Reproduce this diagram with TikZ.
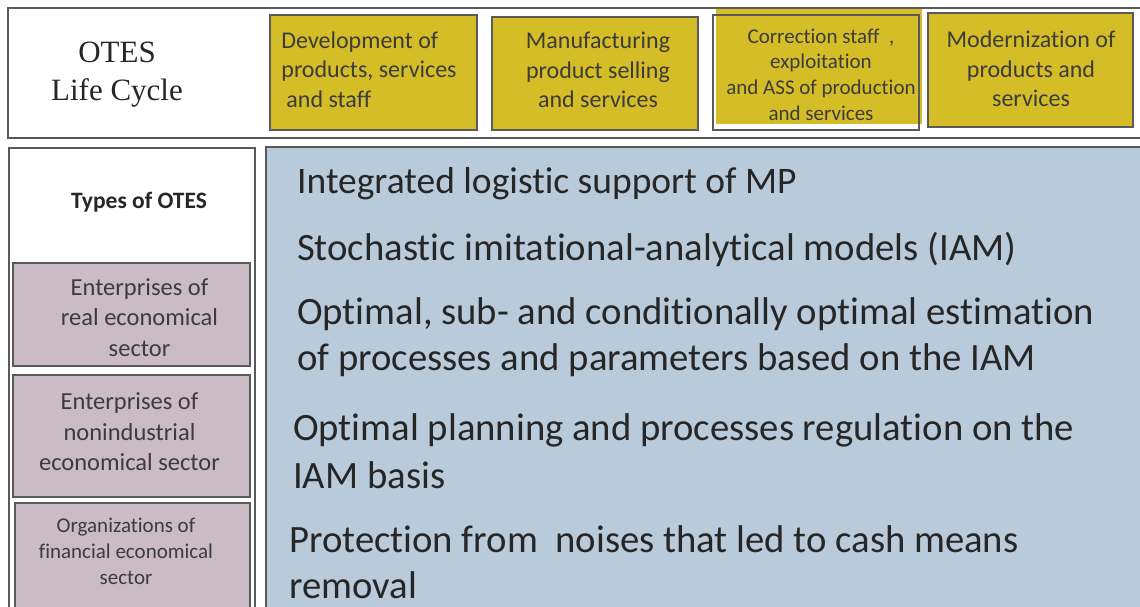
\documentclass[tikz,border=0pt]{standalone}
\usepackage{fontspec}
\setmainfont{Carlito}[Ligatures=NoCommon]
\newfontfamily\timesfont{Liberation Serif}
\definecolor{boxgold}{RGB}{212,189,38}
\definecolor{boxrose}{RGB}{202,187,197}
\definecolor{panelblue}{RGB}{185,203,219}
\definecolor{framegray}{RGB}{90,90,90}
\definecolor{textgray}{RGB}{60,60,60}
\usetikzlibrary{positioning}

\tikzset{
  frame/.style={draw=framegray, line width=1.6pt},
  stagetext/.style={text=textgray, align=center, inner sep=0pt, font=\fontsize{24}{29.5}\selectfont},
  typetext/.style={text=textgray, align=center, inner sep=0pt},
  listitem/.style={anchor=base west, text=black!85, align=left, inner sep=0pt,
    font=\fontsize{38.7}{46}\selectfont},
}

\begin{document}
\begin{tikzpicture}[x=1pt, y=-1pt]
  \useasboundingbox (0,0) rectangle (1140,607);

  % Frames
  \draw[frame, fill=white] (8,8) rectangle (1150,138);
  \draw[frame, fill=white] (9,148) rectangle (255,640);
  \draw[frame, fill=panelblue] (266,147) rectangle (1150,640);

  % Life cycle stages
  \node[font=\timesfont\fontsize{31}{38}\selectfont, text=black!85, align=center] (title) at (117,75) {OTES\\Life Cycle};

  \draw[frame, fill=boxgold] (270,15) rectangle (477,130);
  \draw[frame, fill=boxgold] (492,17) rectangle (698,130);
  \fill[boxgold] (716,9) rectangle (922,124);
  \draw[frame] (713,15) rectangle (919,130);
  \draw[frame, fill=boxgold] (928,13) rectangle (1133,127);

  \node[stagetext, align=left] (develop) at (369,69.5) {Development of\\products, services\\\hspace{5pt}and staff};
  \node[stagetext] (manufact) at (598,70) {Manufacturing\\product selling\\and services};
  \node[stagetext, font=\fontsize{21}{25.7}\selectfont] (correct) at (821,74.5) {Correction staff~~,\\exploitation\\and ASS of production\\and services};
  \node[stagetext] (modern) at (1031,69) {Modernization of\\products and\\services};

  % Types of OTES
  \node[font=\bfseries\fontsize{23.5}{28}\selectfont, text=black!85] (types) at (139,202) {Types of OTES};

  \draw[frame, fill=boxrose] (13,263) rectangle (250,366);
  \draw[frame, fill=boxrose] (13,375) rectangle (250,497);
  \draw[frame, fill=boxrose] (15,503) rectangle (250,640);

  \node[typetext, font=\fontsize{24.5}{30.5}\selectfont] (realsec) at (139.5,317.5) {Enterprises of\\real economical\\sector};
  \node[typetext, font=\fontsize{24.5}{30.5}\selectfont] (nonind) at (129.5,432) {Enterprises of\\nonindustrial\\economical sector};
  \node[typetext, font=\fontsize{21}{26}\selectfont] (finsec) at (126,551) {Organizations of\\financial economical\\sector};

  % Methods
  \node[listitem, font=\fontsize{37.5}{46}\selectfont] (ils) at (297,193) {Integrated logistic support of MP};
  \node[listitem] (iam) at (297,260) {Stochastic imitational-analytical models (IAM)};
  \node[listitem] (estim) at (297,370) {Optimal, sub- and conditionally optimal estimation\\of processes and parameters based on the IAM};
  \node[listitem, font=\fontsize{38.7}{48}\selectfont] (plan) at (293,488) {Optimal planning and processes regulation on the\\IAM basis};
  \node[listitem] (protect) at (289,598) {Protection from \ noises that led to cash means\\removal};
\end{tikzpicture}
\end{document}
